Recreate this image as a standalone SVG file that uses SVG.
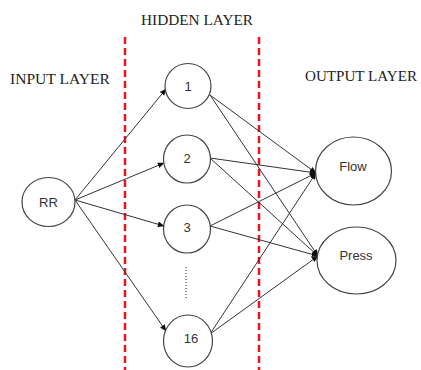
<svg xmlns="http://www.w3.org/2000/svg" width="421" height="370" viewBox="0 0 421 370">
  <defs>
    <marker id="arrow" viewBox="0 0 10 10" refX="9" refY="5" markerWidth="7" markerHeight="7" orient="auto" markerUnits="userSpaceOnUse">
      <path d="M0,1 L10,5 L0,9 Z" fill="#111"/>
    </marker>
    <style>
      .node { fill: #fff; stroke: #444; stroke-width: 1.2; }
      .lbl { font-family: "Liberation Sans", Arial, sans-serif; font-size: 13px; fill: #333; text-anchor: middle; dominant-baseline: central; }
      .layer { font-family: "Liberation Serif", "Times New Roman", serif; font-size: 15px; fill: #222; }
      .edge { stroke: #333; stroke-width: 1; fill: none; marker-end: url(#arrow); }
      .divider { stroke: #e8141a; stroke-width: 2.5; stroke-dasharray: 7 4; }
    </style>
  </defs>
  <rect width="421" height="370" fill="#fff"/>

  <!-- layer titles -->
  <text class="layer" x="141" y="25" textLength="112" lengthAdjust="spacingAndGlyphs">HIDDEN LAYER</text>
  <text class="layer" x="10" y="84" textLength="100" lengthAdjust="spacingAndGlyphs">INPUT LAYER</text>
  <text class="layer" x="305" y="81" textLength="112" lengthAdjust="spacingAndGlyphs">OUTPUT LAYER</text>

  <!-- layer separators -->
  <line class="divider" x1="125" y1="37" x2="125" y2="370"/>
  <line class="divider" x1="259" y1="37" x2="259" y2="370"/>

  <!-- connectors -->
  <g id="connectors">
    <line class="edge" x1="75" y1="200" x2="166" y2="89"/>
    <line class="edge" x1="75" y1="200" x2="164" y2="163"/>
    <line class="edge" x1="75" y1="200" x2="164" y2="226"/>
    <line class="edge" x1="75" y1="200" x2="166" y2="331"/>

    <line class="edge" x1="210" y1="95" x2="316" y2="173"/>
    <line class="edge" x1="210" y1="95" x2="318" y2="256"/>
    <line class="edge" x1="210" y1="158" x2="316" y2="173"/>
    <line class="edge" x1="210" y1="158" x2="318" y2="256"/>
    <line class="edge" x1="210" y1="226" x2="316" y2="173"/>
    <line class="edge" x1="210" y1="226" x2="318" y2="256"/>
    <line class="edge" x1="210" y1="334" x2="316" y2="173"/>
    <line class="edge" x1="210" y1="334" x2="318" y2="256"/>
  </g>

  <!-- input -->
  <g id="node-rr">
    <ellipse class="node" cx="48.5" cy="202" rx="26.5" ry="24.5"/>
    <text class="lbl" x="48.5" y="202">RR</text>
  </g>

  <!-- hidden -->
  <g id="node-h1">
    <ellipse class="node" cx="188" cy="86" rx="23" ry="22.5"/>
    <text class="lbl" x="188" y="86">1</text>
  </g>
  <g id="node-h2">
    <ellipse class="node" cx="187" cy="159" rx="23.5" ry="24"/>
    <text class="lbl" x="187" y="158">2</text>
  </g>
  <g id="node-h3">
    <ellipse class="node" cx="187" cy="229" rx="23.5" ry="24"/>
    <text class="lbl" x="187" y="227">3</text>
  </g>
  <g id="node-ellipsis">
    <line x1="186" y1="267" x2="186" y2="300" stroke="#444" stroke-width="1.2" stroke-dasharray="1 2"/>
  </g>
  <g id="node-h16">
    <ellipse class="node" cx="188" cy="341" rx="24.5" ry="26"/>
    <text class="lbl" x="191" y="338">16</text>
  </g>

  <!-- output -->
  <g id="node-flow">
    <ellipse class="node" cx="353.5" cy="171" rx="38" ry="34"/>
    <text class="lbl" x="353" y="166">Flow</text>
  </g>
  <g id="node-press">
    <ellipse class="node" cx="356.5" cy="260.5" rx="39.5" ry="33.5"/>
    <text class="lbl" x="356" y="255">Press</text>
  </g>
</svg>
